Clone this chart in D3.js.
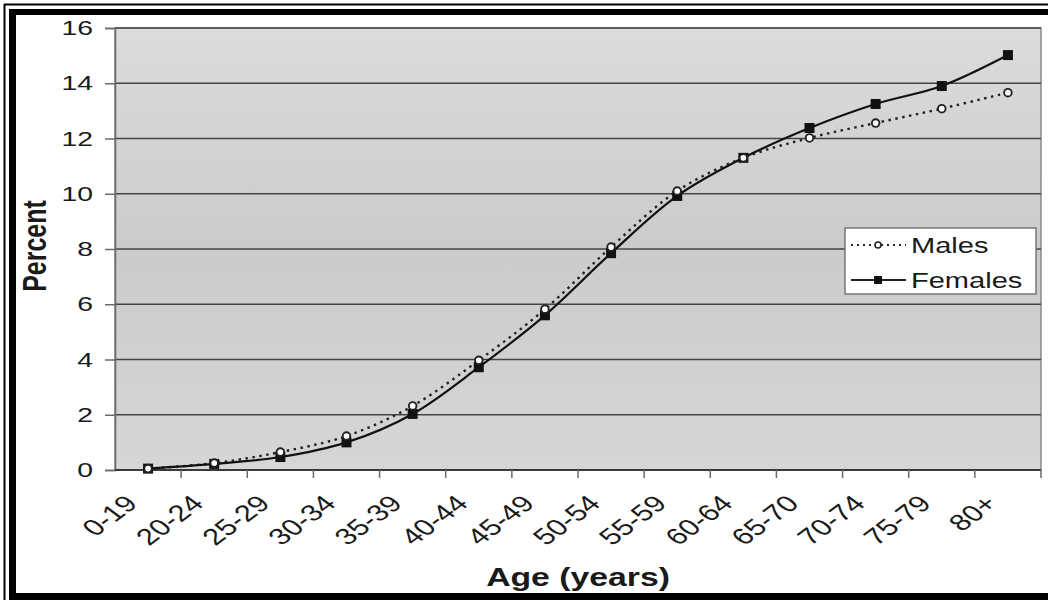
<!DOCTYPE html>
<html>
<head>
<meta charset="utf-8">
<script src="https://cdn.jsdelivr.net/npm/d3@7"></script>
<style>
  html, body { margin: 0; padding: 0; background: #fff; }
  svg { display: block; }
  text { font-family: "Liberation Sans", Arial, sans-serif; fill: #1a1a1a; }
</style>
</head>
<body>
<svg id="chart" width="1048" height="600"></svg>
<script>
// ---- data ----
const categories = ["0-19","20-24","25-29","30-34","35-39","40-44","45-49","50-54","55-59","60-64","65-70","70-74","75-79","80+"];
const males   = [0.05, 0.25, 0.65, 1.23, 2.32, 3.97, 5.82, 8.07, 10.1, 11.3, 12.02, 12.56, 13.08, 13.66];
const females = [0.05, 0.22, 0.47, 1.0, 2.03, 3.72, 5.6, 7.85, 9.92, 11.3, 12.38, 13.25, 13.9, 15.02];
const yTicks = [0, 2, 4, 6, 8, 10, 12, 14, 16];
const seriesNames = ["Males", "Females"];

// ---- layout ----
const W = 1048, H = 600;
const plot = { left: 115, right: 1041, top: 28, bottom: 470 };
const SX = 1.35; // horizontal stretch of the source image

const svg = d3.select("#chart");

const x = d3.scaleBand().domain(categories).range([plot.left, plot.right]).padding(0);
const y = d3.scaleLinear().domain([0, 16]).range([plot.bottom, plot.top]);

// frame
svg.append("rect").attr("x", 0).attr("y", 0).attr("width", W).attr("height", H).attr("fill", "#fff");
svg.append("line").attr("x1", 4).attr("x2", W).attr("y1", 4.5).attr("y2", 4.5).attr("stroke", "#000").attr("stroke-width", 2);
svg.append("line").attr("x1", 4.5).attr("x2", 4.5).attr("y1", 4).attr("y2", H).attr("stroke", "#000").attr("stroke-width", 2);
svg.append("rect").attr("x", 9).attr("y", 9).attr("width", W - 9).attr("height", 6).attr("fill", "#000");
svg.append("rect").attr("x", 9).attr("y", 9).attr("width", 7).attr("height", H - 9).attr("fill", "#000");
svg.append("rect").attr("x", 9).attr("y", 593).attr("width", W - 9).attr("height", 7).attr("fill", "#000");

// plot background gradient
const defs = svg.append("defs");
const grad = defs.append("linearGradient").attr("id", "bg").attr("x1", 0).attr("y1", 0).attr("x2", 0).attr("y2", 1);
grad.append("stop").attr("offset", "0%").attr("stop-color", "#dcdcdc");
grad.append("stop").attr("offset", "50%").attr("stop-color", "#cbcbcb");
grad.append("stop").attr("offset", "100%").attr("stop-color", "#d6d6d6");

svg.append("rect")
  .attr("x", plot.left).attr("y", plot.top)
  .attr("width", plot.right - plot.left).attr("height", plot.bottom - plot.top)
  .attr("fill", "url(#bg)").attr("stroke", "#8a8a8a").attr("stroke-width", 1.5);

// gridlines
svg.append("g").selectAll("line").data(yTicks.filter(d => d > 0)).join("line")
  .attr("x1", plot.left).attr("x2", plot.right)
  .attr("y1", d => y(d)).attr("y2", d => y(d))
  .attr("stroke", "#444").attr("stroke-width", 1.5);

// y axis
const yAxis = svg.append("g").attr("transform", `translate(${plot.left},0)`)
  .call(d3.axisLeft(y).tickValues(yTicks).tickSize(10).tickPadding(12).tickFormat(d3.format("d")));
yAxis.select(".domain").attr("stroke", "#6a6a6a").attr("stroke-width", 1.5);
yAxis.selectAll(".tick line").attr("stroke", "#6a6a6a").attr("stroke-width", 1.5);
yAxis.selectAll(".tick text")
  .attr("font-size", 21).attr("fill", "#1a1a1a")
  .attr("font-family", "Liberation Sans, Arial, sans-serif")
  .each(function() {
    const t = d3.select(this);
    const xx = +t.attr("x");
    t.attr("x", xx / SX).attr("transform", `scale(${SX},1)`);
  });

// x axis line and ticks
const xAxisG = svg.append("g");
xAxisG.append("line").attr("x1", plot.left).attr("x2", plot.right)
  .attr("y1", y(0)).attr("y2", y(0)).attr("stroke", "#3a3a3a").attr("stroke-width", 1.8);
const boundaries = categories.map(c => x(c) + x.bandwidth());
xAxisG.selectAll("line.tk").data(boundaries).join("line").attr("class", "tk")
  .attr("x1", d => d).attr("x2", d => d)
  .attr("y1", y(0)).attr("y2", y(0) + 8)
  .attr("stroke", "#6a6a6a").attr("stroke-width", 1.5);

// x tick labels rotated
xAxisG.selectAll("text.xl").data(categories).join("text").attr("class", "xl")
  .attr("transform", d => `translate(${x(d) + x.bandwidth() / 2 - 9},${y(0) + 35}) scale(${SX},1) rotate(-45)`)
  .attr("text-anchor", "end")
  .attr("font-size", 23)
  .text(d => d);

// axis titles
svg.append("text")
  .attr("transform", `translate(${46},${246}) scale(${SX},1) rotate(-90)`)
  .attr("text-anchor", "middle").attr("font-weight", "bold").attr("font-size", 25)
  .text("Percent");
svg.append("text")
  .attr("transform", `translate(${578},${586}) scale(${SX},1)`)
  .attr("text-anchor", "middle").attr("font-weight", "bold").attr("font-size", 25)
  .text("Age (years)");

// lines
const cx = c => x(c) + x.bandwidth() / 2;
const line = d3.line().x(d => cx(d.c)).y(d => y(d.v)).curve(d3.curveCatmullRom.alpha(0.5));
const mData = categories.map((c, i) => ({ c, v: males[i] }));
const fData = categories.map((c, i) => ({ c, v: females[i] }));

svg.append("path").datum(mData).attr("d", line)
  .attr("fill", "none").attr("stroke", "#222").attr("stroke-width", 2.4)
  .attr("stroke-dasharray", "2.5,4.5");
svg.append("path").datum(fData).attr("d", line)
  .attr("fill", "none").attr("stroke", "#111").attr("stroke-width", 2.2);

// markers
svg.append("g").selectAll("rect").data(fData).join("rect")
  .attr("x", d => cx(d.c) - 5).attr("y", d => y(d.v) - 5)
  .attr("width", 10).attr("height", 10).attr("fill", "#111");
svg.append("g").selectAll("circle").data(mData).join("circle")
  .attr("cx", d => cx(d.c)).attr("cy", d => y(d.v)).attr("r", 3.8)
  .attr("fill", "#fff").attr("stroke", "#222").attr("stroke-width", 1.9);

// legend
const lg = svg.append("g");
lg.append("rect").attr("x", 845).attr("y", 228).attr("width", 191).attr("height", 66)
  .attr("fill", "#fff").attr("stroke", "#777").attr("stroke-width", 1.5);
const legY = [245, 280];
seriesNames.forEach((name, i) => {
  const ly = legY[i];
  const l = lg.append("line").attr("x1", 851).attr("x2", 906).attr("y1", ly).attr("y2", ly)
    .attr("stroke", "#222").attr("stroke-width", 2);
  if (i === 0) {
    l.attr("stroke-dasharray", "2,4");
    lg.append("circle").attr("cx", 878).attr("cy", ly).attr("r", 3).attr("fill", "#fff").attr("stroke", "#222").attr("stroke-width", 1.6);
  } else {
    lg.append("rect").attr("x", 874).attr("y", ly - 4).attr("width", 8).attr("height", 8).attr("fill", "#111");
  }
  lg.append("text").attr("transform", `translate(911,${ly + 8}) scale(1.32,1)`)
    .attr("font-size", 22).text(name);
});
</script>
</body>
</html>
